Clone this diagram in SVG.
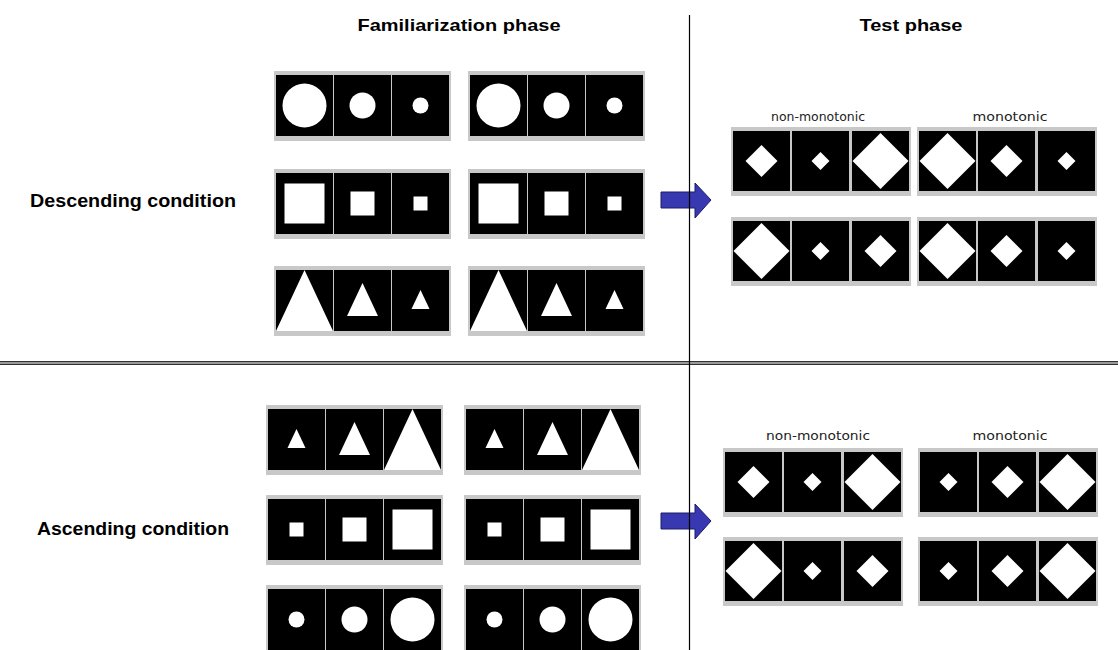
<svg xmlns="http://www.w3.org/2000/svg" width="1118" height="650" viewBox="0 0 1118 650">
<style>
.fr{fill:#c8c8c8}
.c{fill:#000}
.s{fill:#fff}
.h{font-family:"Liberation Sans",Arial,sans-serif;font-weight:bold;font-size:17px;fill:#000}
.lb{font-family:"Liberation Sans",Arial,sans-serif;font-weight:bold;font-size:18px;fill:#000}
.sm{font-family:"DejaVu Sans","Liberation Sans",sans-serif;font-size:13px;fill:#222}
.arr{fill:#3838b0;stroke:#1c1c6a;stroke-width:1}
</style>
<defs>
<g id="fp"><rect class="fr" x="0" y="0" width="177" height="70"/><rect class="c" x="2" y="4" width="57" height="61"/><rect class="c" x="60" y="4" width="57" height="61"/><rect class="c" x="118" y="4" width="57" height="61"/></g>
<g id="tp"><rect class="fr" x="0" y="0" width="180" height="69"/><rect class="c" x="2" y="4" width="57" height="60"/><rect class="c" x="61" y="4" width="57" height="60"/><rect class="c" x="121" y="4" width="57" height="60"/></g>
<!-- circles -->
<circle id="cL" class="s" r="22"/><circle id="cM" class="s" r="13"/><circle id="cS" class="s" r="8"/>
<rect id="qL" class="s" x="-20" y="-20" width="40" height="40"/><rect id="qM" class="s" x="-12" y="-12" width="24" height="24"/><rect id="qS" class="s" x="-7" y="-7" width="14" height="14"/>
<polygon id="tL" class="s" points="0,-30.5 28.5,30.5 -28.5,30.5"/><polygon id="tM" class="s" points="0,-17.5 15.5,15.5 -15.5,15.5"/><polygon id="tS" class="s" points="0,-10.5 9,8.5 -9,8.5"/>
<polygon id="dL" class="s" points="0,-28 28,0 0,28 -28,0"/><polygon id="dM" class="s" points="0,-16 16,0 0,16 -16,0"/><polygon id="dS" class="s" points="0,-9 9,0 0,9 -9,0"/>
</defs>

<g id="headers">
<text class="h" x="459" y="31" text-anchor="middle" textLength="203" lengthAdjust="spacingAndGlyphs">Familiarization phase</text>
<text class="h" x="911" y="31" text-anchor="middle" textLength="103" lengthAdjust="spacingAndGlyphs">Test phase</text>
</g>
<g id="label-desc"><text class="lb" x="30" y="207" textLength="206" lengthAdjust="spacingAndGlyphs">Descending condition</text></g>
<g id="label-asc"><text class="lb" x="37" y="535" textLength="192" lengthAdjust="spacingAndGlyphs">Ascending condition</text></g>

<!-- Descending familiarization -->
<g id="d-circles-1" transform="translate(274,71)"><use href="#fp"/><use href="#cL" x="30.5" y="34.5"/><use href="#cM" x="88.5" y="34.5"/><use href="#cS" x="146.5" y="34.5"/></g>
<g id="d-circles-2" transform="translate(468,71)"><use href="#fp"/><use href="#cL" x="30.5" y="34.5"/><use href="#cM" x="88.5" y="34.5"/><use href="#cS" x="146.5" y="34.5"/></g>
<g id="d-squares-1" transform="translate(274,169)"><use href="#fp"/><use href="#qL" x="30.5" y="34.5"/><use href="#qM" x="88.5" y="34.5"/><use href="#qS" x="146.5" y="34.5"/></g>
<g id="d-squares-2" transform="translate(468,169)"><use href="#fp"/><use href="#qL" x="30.5" y="34.5"/><use href="#qM" x="88.5" y="34.5"/><use href="#qS" x="146.5" y="34.5"/></g>
<g id="d-tri-1" transform="translate(274,266)"><use href="#fp"/><use href="#tL" x="30.5" y="34.5"/><use href="#tM" x="88.5" y="34.5"/><use href="#tS" x="146.5" y="34.5"/></g>
<g id="d-tri-2" transform="translate(468,266)"><use href="#fp"/><use href="#tL" x="30.5" y="34.5"/><use href="#tM" x="88.5" y="34.5"/><use href="#tS" x="146.5" y="34.5"/></g>

<!-- Ascending familiarization -->
<g id="a-tri-1" transform="translate(266,405)"><use href="#fp"/><use href="#tS" x="30.5" y="34.5"/><use href="#tM" x="88.5" y="34.5"/><use href="#tL" x="146.5" y="34.5"/></g>
<g id="a-tri-2" transform="translate(464,405)"><use href="#fp"/><use href="#tS" x="30.5" y="34.5"/><use href="#tM" x="88.5" y="34.5"/><use href="#tL" x="146.5" y="34.5"/></g>
<g id="a-squares-1" transform="translate(266,495)"><use href="#fp"/><use href="#qS" x="30.5" y="34.5"/><use href="#qM" x="88.5" y="34.5"/><use href="#qL" x="146.5" y="34.5"/></g>
<g id="a-squares-2" transform="translate(464,495)"><use href="#fp"/><use href="#qS" x="30.5" y="34.5"/><use href="#qM" x="88.5" y="34.5"/><use href="#qL" x="146.5" y="34.5"/></g>
<g id="a-circles-1" transform="translate(266,585)"><use href="#fp"/><use href="#cS" x="30.5" y="34.5"/><use href="#cM" x="88.5" y="34.5"/><use href="#cL" x="146.5" y="34.5"/></g>
<g id="a-circles-2" transform="translate(464,585)"><use href="#fp"/><use href="#cS" x="30.5" y="34.5"/><use href="#cM" x="88.5" y="34.5"/><use href="#cL" x="146.5" y="34.5"/></g>

<!-- Test: descending -->
<g id="test-labels-top">
<text class="sm" x="818" y="121" text-anchor="middle" textLength="94" lengthAdjust="spacingAndGlyphs">non-monotonic</text>
<text class="sm" x="1010" y="121" text-anchor="middle" textLength="75" lengthAdjust="spacingAndGlyphs">monotonic</text>
</g>
<g id="dt-nm-1" transform="translate(731,127)"><use href="#tp"/><use href="#dM" x="30.5" y="34"/><use href="#dS" x="89.5" y="34"/><use href="#dL" x="149.5" y="34"/></g>
<g id="dt-m-1" transform="translate(917,127)"><use href="#tp"/><use href="#dL" x="30.5" y="34"/><use href="#dM" x="89.5" y="34"/><use href="#dS" x="149.5" y="34"/></g>
<g id="dt-nm-2" transform="translate(731,217)"><use href="#tp"/><use href="#dL" x="30.5" y="34"/><use href="#dS" x="89.5" y="34"/><use href="#dM" x="149.5" y="34"/></g>
<g id="dt-m-2" transform="translate(917,217)"><use href="#tp"/><use href="#dL" x="30.5" y="34"/><use href="#dM" x="89.5" y="34"/><use href="#dS" x="149.5" y="34"/></g>

<!-- Test: ascending -->
<g id="test-labels-bottom">
<text class="sm" x="818" y="440" text-anchor="middle" textLength="104" lengthAdjust="spacingAndGlyphs">non-monotonic</text>
<text class="sm" x="1010" y="440" text-anchor="middle" textLength="75" lengthAdjust="spacingAndGlyphs">monotonic</text>
</g>
<g id="at-nm-1" transform="translate(723,448)"><use href="#tp"/><use href="#dM" x="30.5" y="34"/><use href="#dS" x="89.5" y="34"/><use href="#dL" x="149.5" y="34"/></g>
<g id="at-m-1" transform="translate(918,448)"><use href="#tp"/><use href="#dS" x="30.5" y="34"/><use href="#dM" x="89.5" y="34"/><use href="#dL" x="149.5" y="34"/></g>
<g id="at-nm-2" transform="translate(723,537)"><use href="#tp"/><use href="#dL" x="30.5" y="34"/><use href="#dS" x="89.5" y="34"/><use href="#dM" x="149.5" y="34"/></g>
<g id="at-m-2" transform="translate(918,537)"><use href="#tp"/><use href="#dS" x="30.5" y="34"/><use href="#dM" x="89.5" y="34"/><use href="#dL" x="149.5" y="34"/></g>

<g id="connectors">
<polygon class="arr" points="661,192 695,192 695,183 711,200 695,218 695,208 661,208"/>
<polygon class="arr" points="661,513 695,513 695,504 711,521 695,539 695,529 661,529"/>
<rect x="0" y="361" width="1118" height="4" fill="#9a9a9a"/>
<line x1="0" y1="361.5" x2="1118" y2="361.5" stroke="#333" stroke-width="1"/>
<line x1="0" y1="364.5" x2="1118" y2="364.5" stroke="#333" stroke-width="1"/>
<line x1="689.5" y1="15" x2="689.5" y2="650" stroke="#000" stroke-width="1.2"/>
</g>
</svg>
